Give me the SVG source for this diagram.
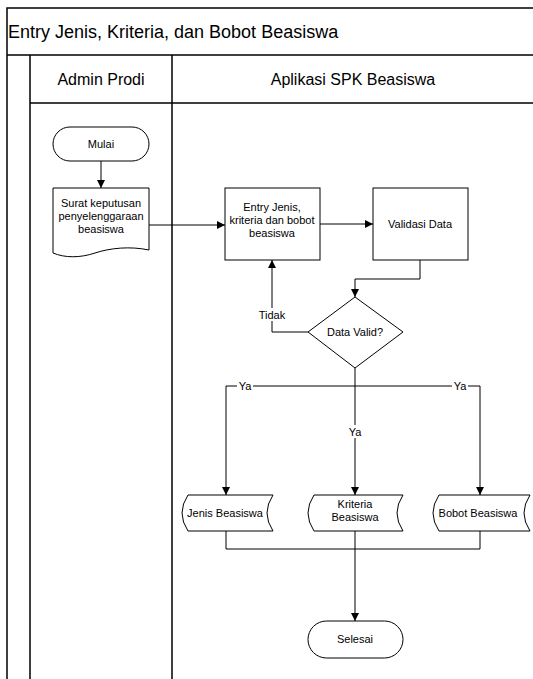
<svg xmlns="http://www.w3.org/2000/svg" width="533" height="679" viewBox="0 0 533 679">
<style>
.frame{fill:none;stroke:#000;stroke-width:1.5}
.shape{fill:#fff;stroke:#000;stroke-width:1}
.conn{fill:none;stroke:#000;stroke-width:1}
text{font-family:"Liberation Sans",Arial,sans-serif;fill:#000}
.t{font-size:11px;text-anchor:middle}
.h{font-size:16px;text-anchor:middle}
.lbl{font-size:11px;text-anchor:middle}
</style>
<defs>
<marker id="arr" viewBox="0 0 10 10" refX="10" refY="5" markerWidth="8" markerHeight="8" markerUnits="userSpaceOnUse" orient="auto">
<path d="M0,0 L10,5 L0,10 z" fill="#000"/>
</marker>
</defs>
<rect width="533" height="679" fill="#fff"/>
<g id="pool">
<path class="frame" d="M7,679 V8 H540 M7,55 H540 M30,55 V679 M172,55 V679 M30,103 H540"/>
<text x="8" y="38" font-size="18">Entry Jenis, Kriteria, dan Bobot Beasiswa</text>
<text class="h" x="101" y="85">Admin Prodi</text>
<text class="h" x="353" y="85">Aplikasi SPK Beasiswa</text>
</g>
<g id="connectors">
<path class="conn" d="M101,161 V188" marker-end="url(#arr)"/>
<path class="conn" d="M149,225 H225" marker-end="url(#arr)"/>
<path class="conn" d="M320,224 H373" marker-end="url(#arr)"/>
<path class="conn" d="M420,260 V279 H355 V297" marker-end="url(#arr)"/>
<path class="conn" d="M308,332 H272 V260" marker-end="url(#arr)"/>
<path class="conn" d="M355,368 V495" marker-end="url(#arr)"/>
<path class="conn" d="M355,386 H226 V495" marker-end="url(#arr)"/>
<path class="conn" d="M355,386 H480 V495" marker-end="url(#arr)"/>
<path class="conn" d="M226,531 V549 H480 V531 M355,531 V621" marker-end="url(#arr)"/>
<rect x="260" y="308" width="25" height="13" fill="#fff"/>
<text class="lbl" x="272" y="319">Tidak</text>
<rect x="237" y="380" width="16" height="12" fill="#fff"/>
<text class="lbl" x="245" y="390">Ya</text>
<rect x="452" y="380" width="16" height="12" fill="#fff"/>
<text class="lbl" x="460" y="390">Ya</text>
<rect x="347" y="425" width="16" height="13" fill="#fff"/>
<text class="lbl" x="355" y="436">Ya</text>
</g>
<g id="mulai">
<rect class="shape" x="53" y="127" width="96" height="34" rx="17" ry="17"/>
<text class="t" x="101" y="148">Mulai</text>
</g>
<g id="surat">
<path class="shape" d="M53,188 H149 V250 C130,246 110,248 95,253 C80,258 65,258 53,253 Z"/>
<text class="t" x="101" y="207">Surat keputusan</text>
<text class="t" x="101" y="220">penyelenggaraan</text>
<text class="t" x="101" y="233">beasiswa</text>
</g>
<g id="entry">
<rect class="shape" x="225" y="188" width="95" height="72"/>
<text class="t" x="272" y="211">Entry Jenis,</text>
<text class="t" x="272" y="224">kriteria dan bobot</text>
<text class="t" x="272" y="237">beasiswa</text>
</g>
<g id="validasi">
<rect class="shape" x="373" y="188" width="95" height="72"/>
<text class="t" x="420" y="228">Validasi Data</text>
</g>
<g id="decision">
<path class="shape" d="M355,297 L403,332 L355,368 L308,332 Z"/>
<text class="t" x="355" y="336">Data Valid?</text>
</g>
<g id="jenis">
<path class="shape" d="M188,495 H273 Q261,513 273,531 H188 Q176,513 188,495 Z"/>
<text class="t" x="225" y="517">Jenis Beasiswa</text>
</g>
<g id="kriteria">
<path class="shape" d="M314,495 H403 Q391,513 403,531 H314 Q302,513 314,495 Z"/>
<text class="t" x="355" y="508">Kriteria</text>
<text class="t" x="355" y="521">Beasiswa</text>
</g>
<g id="bobot">
<path class="shape" d="M439,495 H530 Q518,513 530,531 H439 Q427,513 439,495 Z"/>
<text class="t" x="478" y="517">Bobot Beasiswa</text>
</g>
<g id="selesai">
<rect class="shape" x="308" y="621" width="95" height="37" rx="18.5" ry="18.5"/>
<text class="t" x="355" y="643">Selesai</text>
</g>
</svg>
